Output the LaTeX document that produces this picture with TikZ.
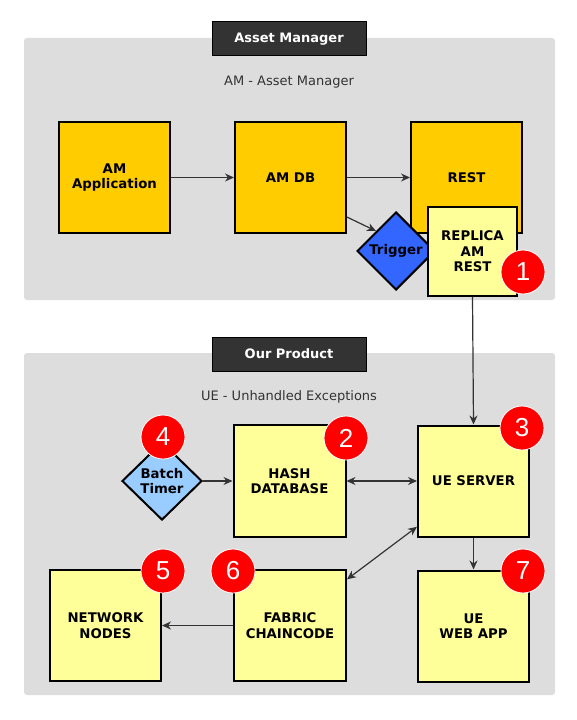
\documentclass[tikz,border=0pt]{standalone}
\usepackage{fontspec}
\setmainfont{DejaVu Sans}
\newfontfamily\badgefont{Liberation Sans}
\usetikzlibrary{shapes.geometric,arrows.meta}
\definecolor{panelgray}{HTML}{DDDDDD}
\definecolor{titlegray}{HTML}{333333}
\definecolor{amyellow}{HTML}{FFCC00}
\definecolor{ueyellow}{HTML}{FFFF99}
\definecolor{trigblue}{HTML}{3366FF}
\definecolor{timerblue}{HTML}{99CCFF}
\definecolor{badgered}{HTML}{FF0000}
\definecolor{linegray}{HTML}{333333}
\tikzset{
  panel/.style={fill=panelgray, rounded corners=3bp, draw=none},
  titlebar/.style={fill=titlegray, draw=black, line width=1bp, text=white,
    font=\fontsize{13bp}{15bp}\selectfont\bfseries, minimum width=154bp,
    minimum height=34bp, inner sep=0},
  subtitle/.style={text=titlegray, font=\fontsize{13bp}{15bp}\selectfont, inner sep=0},
  box/.style={draw=black, line width=2bp, minimum width=111bp, minimum height=111bp,
    inner sep=0, align=center, font=\fontsize{13.3bp}{15.5bp}\selectfont\bfseries},
  ambox/.style={box, fill=amyellow},
  uebox/.style={box, fill=ueyellow},
  dia/.style={diamond, draw=black, line width=2bp, minimum width=78bp,
    minimum height=78bp, inner sep=0},
  dialabel/.style={align=center, inner sep=0,
    font=\fontsize{13.3bp}{15.5bp}\selectfont\bfseries},
  badge/.style={circle, fill=badgered, draw=white, line width=0.8bp,
    minimum size=44bp, inner sep=0, text=white,
    font=\badgefont\fontsize{26bp}{26bp}\selectfont},
  conn/.style={draw=linegray, line width=1.2bp, -{Stealth[length=9bp,width=8bp]}},
  conn2/.style={conn, {Stealth[length=9bp,width=8bp]}-{Stealth[length=9bp,width=8bp]}},
}
\begin{document}
\begin{tikzpicture}[x=1bp,y=-1bp]
\useasboundingbox (0,0) rectangle (577,720);
% panels
\path[panel] (24,38) rectangle (555,300);
\path[panel] (24,353) rectangle (555,695);
\node[titlebar] (amtitle) at (289,39) {Asset Manager};
\node[subtitle] (amsub) at (289,82) {AM - Asset Manager};
\node[titlebar] (uetitle) at (289,354) {Our Product};
\node[subtitle] (uesub) at (289,397) {UE - Unhandled Exceptions};
% AM boxes
\node[ambox] (app) at (114.5,177.5) {AM\\Application};
\node[ambox] (amdb) at (290.5,177.5) {AM DB};
\node[ambox] (rest) at (466.5,177.5) {REST};
\node[dia, fill=trigblue] (trigger) at (396,251) {};
\node[dialabel] (triggertext) at (trigger) {Trigger};
\node[uebox, minimum width=89bp, minimum height=89bp] (replica) at (472.5,251.5) {REPLICA\\AM\\REST};
\node[badge] (b1) at (523,272) {1};
% UE boxes
\node[dia, fill=timerblue, minimum width=80bp] (timer) at (162,481) {};
\node[dialabel] (timertext) at (timer) {Batch\\Timer};
\node[uebox, minimum width=112bp, minimum height=112bp] (hash) at (289.5,481) {HASH\\DATABASE};
\node[uebox] (ueserver) at (473.5,481) {UE SERVER};
\node[uebox] (network) at (105.5,625.5) {NETWORK\\NODES};
\node[uebox, minimum width=112bp] (fabric) at (290,625.5) {FABRIC\\CHAINCODE};
\node[uebox] (webapp) at (473.5,626) {UE\\WEB APP};
\node[badge] (b4) at (163,437) {4};
\node[badge] (b2) at (346,438) {2};
\node[badge] (b3) at (522,428) {3};
\node[badge] (b5) at (163,571) {5};
\node[badge] (b6) at (233,571) {6};
\node[badge] (b7) at (523,571) {7};
% connectors
\draw[conn] (app.east) -- (amdb.west);
\draw[conn] (amdb.east) -- (rest.west);
\draw[conn] (amdb.-35) -- (trigger.north west);
\draw[conn] (replica.south) -- (ueserver.north);
\draw[conn] (timer.east) -- (hash.west);
\draw[conn2] (hash.east) -- (ueserver.west);
\draw[conn2] (fabric.39) -- (ueserver.219);
\draw[conn] (ueserver.south) -- (webapp.north);
\draw[conn] (fabric.west) -- (network.east);
\end{tikzpicture}
\end{document}
